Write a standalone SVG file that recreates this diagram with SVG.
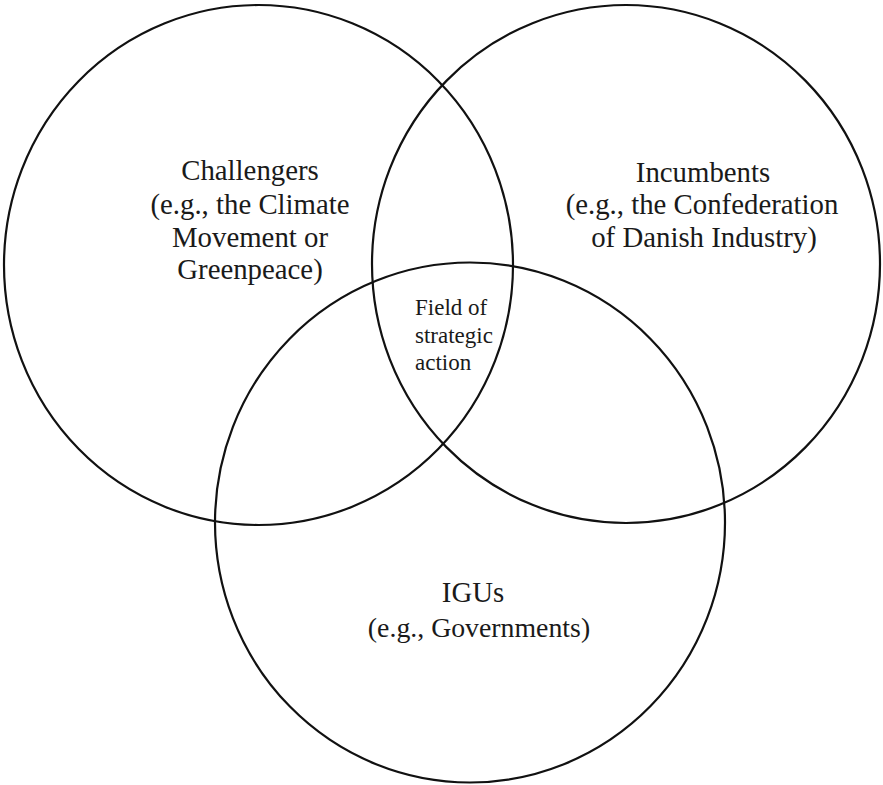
<svg xmlns="http://www.w3.org/2000/svg" width="883" height="785" viewBox="0 0 883 785">
<style>
.c{fill:none;stroke:#111;stroke-width:2.2}
.t{font-family:"Liberation Serif","Times New Roman",serif;font-size:28.8px;fill:#1a1a1a;text-anchor:middle}
.s{font-family:"Liberation Serif","Times New Roman",serif;font-size:23px;fill:#1a1a1a}
</style>
<rect width="883" height="785" fill="#fff"/>
<g id="challengers">
<ellipse class="c" cx="258.5" cy="265" rx="254.5" ry="260"/>
<text class="t" x="250" y="180">Challengers</text>
<text class="t" x="250" y="214">(e.g., the Climate</text>
<text class="t" x="250" y="247">Movement or</text>
<text class="t" x="250" y="279">Greenpeace)</text>
</g>
<g id="incumbents">
<ellipse class="c" cx="626" cy="264" rx="254" ry="259"/>
<text class="t" x="703" y="182">Incumbents</text>
<text class="t" x="702" y="214">(e.g., the Confederation</text>
<text class="t" x="704" y="247">of Danish Industry)</text>
</g>
<g id="igus">
<ellipse class="c" cx="470" cy="522.5" rx="255" ry="260"/>
<text class="t" x="473" y="602">IGUs</text>
<text class="t" x="479" y="637" style="font-size:27.8px">(e.g., Governments)</text>
</g>
<g id="field">
<text class="s" x="415" y="315">Field of</text>
<text class="s" x="415" y="343">strategic</text>
<text class="s" x="415" y="370">action</text>
</g>
<g id="connectors"></g>
</svg>
